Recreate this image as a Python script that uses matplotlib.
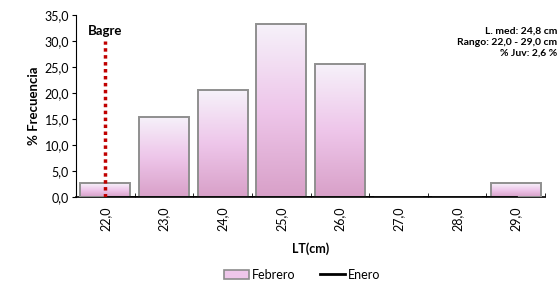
import numpy as np
import matplotlib.pyplot as plt
from matplotlib.colors import LinearSegmentedColormap
from matplotlib.lines import Line2D
from matplotlib.patches import Patch

plt.rcParams['font.family'] = ['Lato', 'DejaVu Sans']

# datos
tallas = ["22,0", "23,0", "24,0", "25,0", "26,0", "27,0", "28,0", "29,0"]
febrero = [2.6, 15.4, 20.5, 33.3, 25.6, 0.0, 0.0, 2.6]
enero = [0, 0, 0, 0, 0, 0, 0, 0]
talla_minima = 0  # indice de "22,0"
texto_info = "L. med: 24,8 cm\nRango: 22,0 - 29,0 cm\n% Juv: 2,6 %"

fig = plt.figure(figsize=(5.59, 2.83), dpi=100)
ax = fig.add_axes([0.136, 0.304, 0.839, 0.643])

x = np.arange(len(tallas))
bars = ax.bar(x, febrero, width=0.85, color="none", edgecolor="#8f8f8f",
              linewidth=1.4, zorder=3)

# relleno degradado de las barras
cmap = LinearSegmentedColormap.from_list("grad", ["#d8a0c8", "#eec6ea", "#f6f2fa"])
grad = np.linspace(0, 1, 256).reshape(-1, 1)
for b in bars:
    h = b.get_height()
    if h <= 0:
        continue
    x0 = b.get_x()
    im = ax.imshow(grad, cmap=cmap, origin="lower", aspect="auto",
                   extent=[x0, x0 + b.get_width(), 0, h], zorder=2)
    im.set_clip_path(b)

ax.plot(x, enero, color="black", linewidth=2, zorder=4)

# linea de talla minima
ax.plot([talla_minima, talla_minima], [0, 30], color="#c00000", linewidth=2.5,
        linestyle=(0, (1, 1)), zorder=5)
ax.text(talla_minima, 32.0, "Bagre", ha="center", va="center",
        fontsize=9.5, fontweight="bold")

ax.set_xlim(-0.5, len(tallas) - 0.5)
ax.set_ylim(0, 35)
yt = np.arange(0, 36, 5)
ax.set_yticks(yt)
ax.set_yticklabels([("%.1f" % v).replace(".", ",") for v in yt])
ax.set_xticks(x)
ax.set_xticklabels(tallas, rotation=90)
ax.set_xticks(np.arange(-0.5, len(tallas), 1), minor=True)
ax.tick_params(axis="x", which="major", length=0, labelsize=9, pad=7)
ax.tick_params(axis="x", which="minor", direction="in", length=3)
ax.tick_params(axis="y", labelsize=9, length=3, pad=2)

for s in ["top", "right"]:
    ax.spines[s].set_visible(False)
ax.spines["bottom"].set_linewidth(1.2)

ax.set_ylabel("% Frecuencia", fontsize=9.5, fontweight="bold", labelpad=3)
ax.set_xlabel("LT(cm)", fontsize=9, fontweight="bold", labelpad=8)

fig.text(0.997, 0.85, texto_info, ha="right", va="center", fontsize=7.5,
         fontweight="bold", linespacing=1.3)

handles = [Patch(facecolor="#eec6ea", edgecolor="#8c8c8c", linewidth=1.2),
           Line2D([0], [0], color="black", linewidth=2)]
fig.legend(handles, ["Febrero", "Enero"], loc="center", bbox_to_anchor=(0.54, 0.03),
           ncol=2, frameon=False, fontsize=9, handlelength=2, handletextpad=0.2,
           columnspacing=2)

fig.savefig("out.png", dpi=100)
